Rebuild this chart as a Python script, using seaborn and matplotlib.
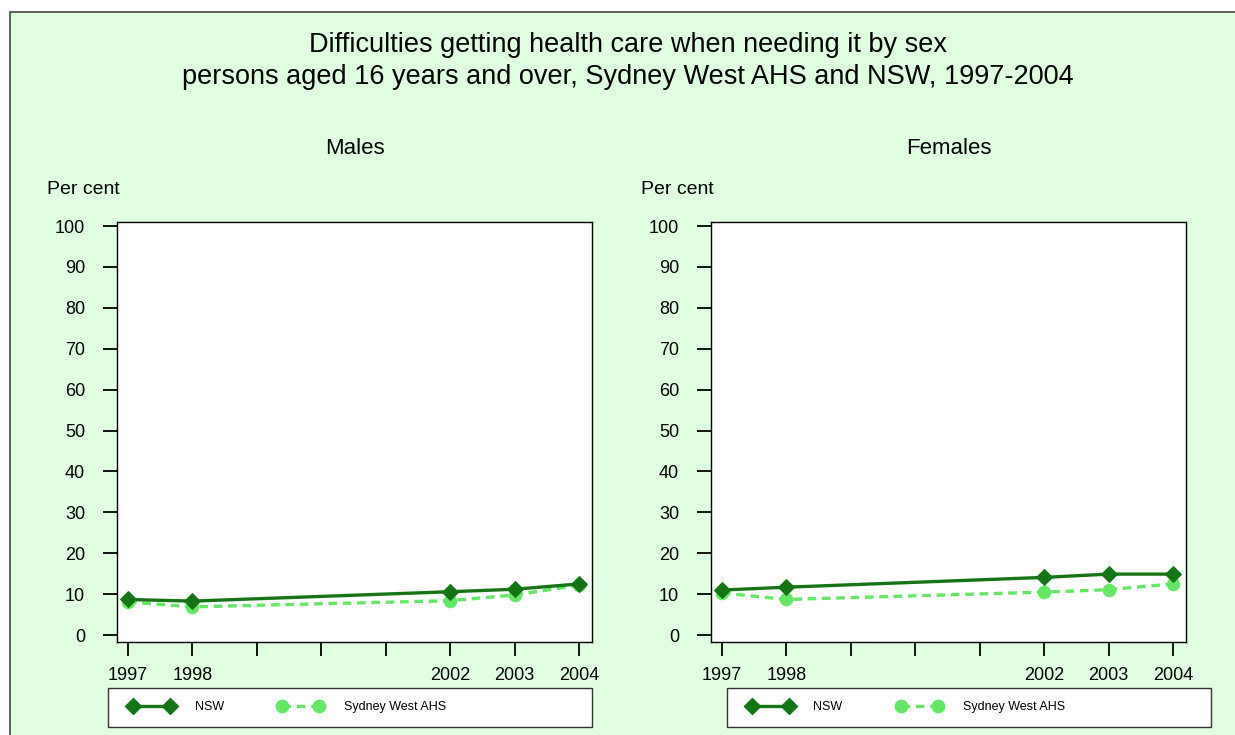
import matplotlib
matplotlib.use("Agg")
import matplotlib.pyplot as plt
import seaborn as sns
import pandas as pd
from matplotlib.patches import Rectangle
from matplotlib.lines import Line2D

# ---------------- data ----------------
years = [1997, 1998, 2002, 2003, 2004]
males_nsw = [8.7, 8.3, 10.6, 11.2, 12.5]
males_sw = [8.1, 6.9, 8.4, 9.8, 12.2]
females_nsw = [11.0, 11.7, 14.1, 14.9, 14.9]
females_sw = [10.3, 8.7, 10.5, 11.1, 12.5]
series_labels = ["NSW", "Sydney West AHS"]
panel_titles = ["Males", "Females"]
title_lines = ["Difficulties getting health care when needing it by sex",
               "persons aged 16 years and over, Sydney West AHS and NSW, 1997-2004"]
ylabel_text = "Per cent"
yticks = list(range(0, 101, 10))
xticks = list(range(1997, 2005))
xticklabels = [str(y) if y in years else "" for y in xticks]

# ---------------- style ----------------
W, H = 1235, 735
BG = "#E0FFE0"
C_NSW = "#157515"
C_SW = "#66E666"
DASH = (0, (2.6, 1.7))

sns.set_theme(style="white")
plt.rcParams["font.family"] = ["Liberation Sans", "DejaVu Sans"]
plt.rcParams["text.color"] = "black"

fig = plt.figure(figsize=(W / 100, H / 100), dpi=100)
fig.patch.set_facecolor("white")
fig.patches.append(Rectangle((10 / W, -0.1), 1.1, 1 - 12 / H + 0.1,
                             transform=fig.transFigure, facecolor=BG,
                             edgecolor="#444444", lw=1.2, zorder=-5))

for i, ln in enumerate(title_lines):
    fig.text(628 / W, 1 - (45 + 32 * i) / H, ln, ha="center", va="center",
             fontsize=19.5, color="black")

panels = [
    (panel_titles[0], males_nsw, males_sw, 117, 108),
    (panel_titles[1], females_nsw, females_sw, 711, 727),
]

for name, nsw, sw, left_px, leg_px in panels:
    ax = fig.add_axes([left_px / W, 1 - 642 / H, 475 / W, 420 / H])
    ax.set_facecolor("white")
    df = pd.DataFrame({
        "Year": years * 2,
        "Value": nsw + sw,
        "Series": [series_labels[0]] * len(years) + [series_labels[1]] * len(years),
    })
    sns.lineplot(data=df[df.Series == series_labels[1]], x="Year", y="Value",
                 ax=ax, color=C_SW, lw=2.4, marker="o", markersize=9,
                 markeredgecolor=C_SW, legend=False)
    ax.lines[-1].set_linestyle(DASH)
    sns.lineplot(data=df[df.Series == series_labels[0]], x="Year", y="Value",
                 ax=ax, color=C_NSW, lw=2.4, marker="D", markersize=8,
                 markeredgecolor=C_NSW, legend=False)
    ax.set_xlim(1996.83, 2004.2)
    ax.set_ylim(-1.7, 101)
    ax.set_xticks(xticks)
    ax.set_xticklabels(xticklabels)
    ax.set_yticks(yticks)
    ax.set_xlabel("")
    ax.set_ylabel("")
    for sp in ax.spines.values():
        sp.set_visible(True)
        sp.set_color("black")
        sp.set_linewidth(1.0)
    ax.tick_params(axis="both", direction="out", length=10, width=1.3,
                   color="black", labelcolor="black", labelsize=13,
                   bottom=True, left=True, top=False, right=False)
    ax.tick_params(axis="y", pad=13)
    ax.tick_params(axis="x", pad=8)
    cx = left_px + 475 / 2
    fig.text(cx / W, 1 - 148 / H, name, ha="center", va="center", fontsize=16,
             color="black")
    fig.text((left_px - 70) / W, 1 - 189 / H, ylabel_text, ha="left",
             va="center", fontsize=14, color="black")

    # legend box
    fig.patches.append(Rectangle((leg_px / W, 1 - 727 / H), 484 / W, 39 / H,
                                 transform=fig.transFigure, facecolor="white",
                                 edgecolor="#333333", lw=1.0, zorder=1))
    handles = [
        Line2D([], [], color=C_NSW, lw=2.4, marker="D", markersize=8),
        Line2D([], [], color=C_SW, lw=2.4, marker="o", markersize=9,
               linestyle=DASH),
    ]
    leg = fig.legend(handles, series_labels, loc="center left",
                     bbox_to_anchor=((leg_px + 21) / W, 1 - 707 / H),
                     frameon=False, ncol=2, fontsize=9, numpoints=2,
                     handlelength=3.56, handletextpad=1.68, columnspacing=4.4,
                     borderpad=0, borderaxespad=0)
    for t in leg.get_texts():
        t.set_color("black")

fig.savefig("out.png", dpi=100, facecolor=fig.get_facecolor())
